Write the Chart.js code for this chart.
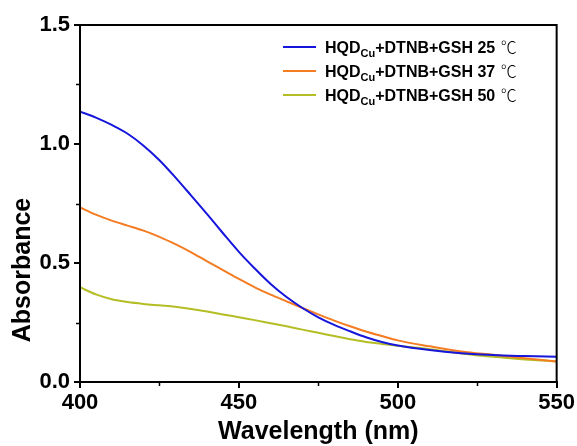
<!DOCTYPE html>
<html>
<head>
<meta charset="utf-8">
<script src="https://cdn.jsdelivr.net/npm/chart.js@4"></script>
<style>
  html, body { margin: 0; padding: 0; background: #fff; }
  #wrap { width: 577px; height: 446px; }
</style>
</head>
<body>
<div id="wrap"><canvas id="c" width="577" height="446"></canvas></div>
<script>
// Absorption spectra of HQD(Cu) + DTNB + GSH at three temperatures
const wavelengths = [400,405,410,415,420,425,430,435,440,445,450,455,460,465,470,475,480,485,490,495,500,510,520,530,540,550];
const abs25 = [1.136,1.111,1.080,1.043,0.993,0.932,0.860,0.783,0.705,0.625,0.547,0.477,0.412,0.357,0.311,0.272,0.240,0.213,0.188,0.168,0.153,0.134,0.121,0.113,0.109,0.106];
const abs37 = [0.734,0.703,0.678,0.657,0.636,0.610,0.579,0.545,0.507,0.470,0.433,0.398,0.367,0.339,0.311,0.284,0.258,0.234,0.212,0.193,0.175,0.150,0.128,0.114,0.100,0.086];
const abs50 = [0.398,0.368,0.348,0.336,0.328,0.322,0.316,0.307,0.296,0.284,0.272,0.260,0.247,0.234,0.220,0.207,0.193,0.180,0.168,0.160,0.152,0.138,0.120,0.106,0.095,0.086];
const temps = ['25', '37', '50'];
const xTicks = [400, 450, 500, 550];
const yTicks = [0.0, 0.5, 1.0, 1.5];
const xMinor = [425, 475, 525];
const yMinor = [0.25, 0.75, 1.25];

const colors = ['#1616dc', '#f47c22', '#b4be24'];
const FONT = "'Liberation Sans', Arial, sans-serif";

function pts(ys) { return wavelengths.map((x, i) => ({ x: x, y: ys[i] })); }

// frame, minor ticks, axis titles and legend
const decor = {
  id: 'decor',
  afterDraw(chart) {
    const ctx = chart.ctx;
    const a = chart.chartArea;
    const xs = chart.scales.x, ys = chart.scales.y;
    ctx.save();
    ctx.strokeStyle = '#000';
    ctx.lineWidth = 2;
    ctx.strokeRect(a.left, a.top, a.right - a.left, a.bottom - a.top);
    ctx.lineWidth = 1.5;
    ctx.beginPath();
    xMinor.forEach(v => {
      const px = Math.round(xs.getPixelForValue(v)) + 0.5;
      ctx.moveTo(px, a.bottom); ctx.lineTo(px, a.bottom + 4);
    });
    yMinor.forEach(v => {
      const py = Math.round(ys.getPixelForValue(v)) + 0.5;
      ctx.moveTo(a.left, py); ctx.lineTo(a.left - 4, py);
    });
    ctx.stroke();

    // axis titles
    ctx.fillStyle = '#000';
    ctx.font = 'bold 25px ' + FONT;
    ctx.textAlign = 'center';
    ctx.textBaseline = 'middle';
    ctx.fillText('Wavelength (nm)', (a.left + a.right) / 2, 432);
    ctx.save();
    ctx.translate(23, 270);
    ctx.rotate(-Math.PI / 2);
    ctx.fillText('Absorbance', 0, 0);
    ctx.restore();

    // legend
    ctx.textAlign = 'left';
    ctx.textBaseline = 'alphabetic';
    chart.data.datasets.forEach((ds, i) => {
      const y = a.top + 22 + i * 24;
      ctx.strokeStyle = ds.borderColor;
      ctx.lineWidth = 2;
      ctx.beginPath();
      ctx.moveTo(a.left + 203, y); ctx.lineTo(a.left + 236, y);
      ctx.stroke();
      let x = a.left + 245;
      const base = y + 6;
      ctx.font = 'bold 16px ' + FONT;
      ctx.fillText('HQD', x, base); x += ctx.measureText('HQD').width;
      ctx.font = 'bold 11px ' + FONT;
      ctx.fillText('Cu', x, base + 4); x += ctx.measureText('Cu').width;
      ctx.font = 'bold 16px ' + FONT;
      const t = '+DTNB+GSH ' + temps[i] + ' ';
      ctx.fillText(t, x, base); x += ctx.measureText(t).width;
      ctx.font = "300 16px 'Noto Sans CJK SC', 'DejaVu Sans', sans-serif";
      ctx.fillText('\u2103', x + 1, base);
    });
    ctx.restore();
  }
};

new Chart(document.getElementById('c'), {
  type: 'line',
  data: {
    datasets: [
      { label: 'HQDCu+DTNB+GSH 25 \u2103', data: pts(abs25), borderColor: colors[0] },
      { label: 'HQDCu+DTNB+GSH 37 \u2103', data: pts(abs37), borderColor: colors[1] },
      { label: 'HQDCu+DTNB+GSH 50 \u2103', data: pts(abs50), borderColor: colors[2] }
    ].map(d => Object.assign(d, { borderWidth: 2, pointRadius: 0, tension: 0.4, cubicInterpolationMode: 'monotone', fill: false }))
  },
  options: {
    responsive: false,
    animation: false,
    layout: { padding: { top: 25, right: 19, left: 0, bottom: 0 } },
    plugins: { legend: { display: false }, tooltip: { enabled: false } },
    scales: {
      x: {
        type: 'linear', min: 400, max: 550,
        afterBuildTicks: s => { s.ticks = xTicks.map(v => ({ value: v })); },
        afterFit: s => { s.height = 64; },
        grid: { drawOnChartArea: false, drawTicks: true, tickLength: 6, color: '#000', lineWidth: 2 },
        border: { display: true, color: '#000', width: 2 },
        ticks: { color: '#000', padding: 2, maxRotation: 0, font: { family: FONT, size: 22, weight: 'bold' }, callback: v => String(v) }
      },
      y: {
        type: 'linear', min: 0, max: 1.5,
        afterBuildTicks: s => { s.ticks = yTicks.map(v => ({ value: v })); },
        afterFit: s => { s.width = 80; },
        grid: { drawOnChartArea: false, drawTicks: true, tickLength: 6, color: '#000', lineWidth: 2 },
        border: { display: true, color: '#000', width: 2 },
        ticks: { color: '#000', padding: 4, font: { family: FONT, size: 22, weight: 'bold' }, callback: v => Number(v).toFixed(1) }
      }
    }
  },
  plugins: [decor]
});
</script>
</body>
</html>
